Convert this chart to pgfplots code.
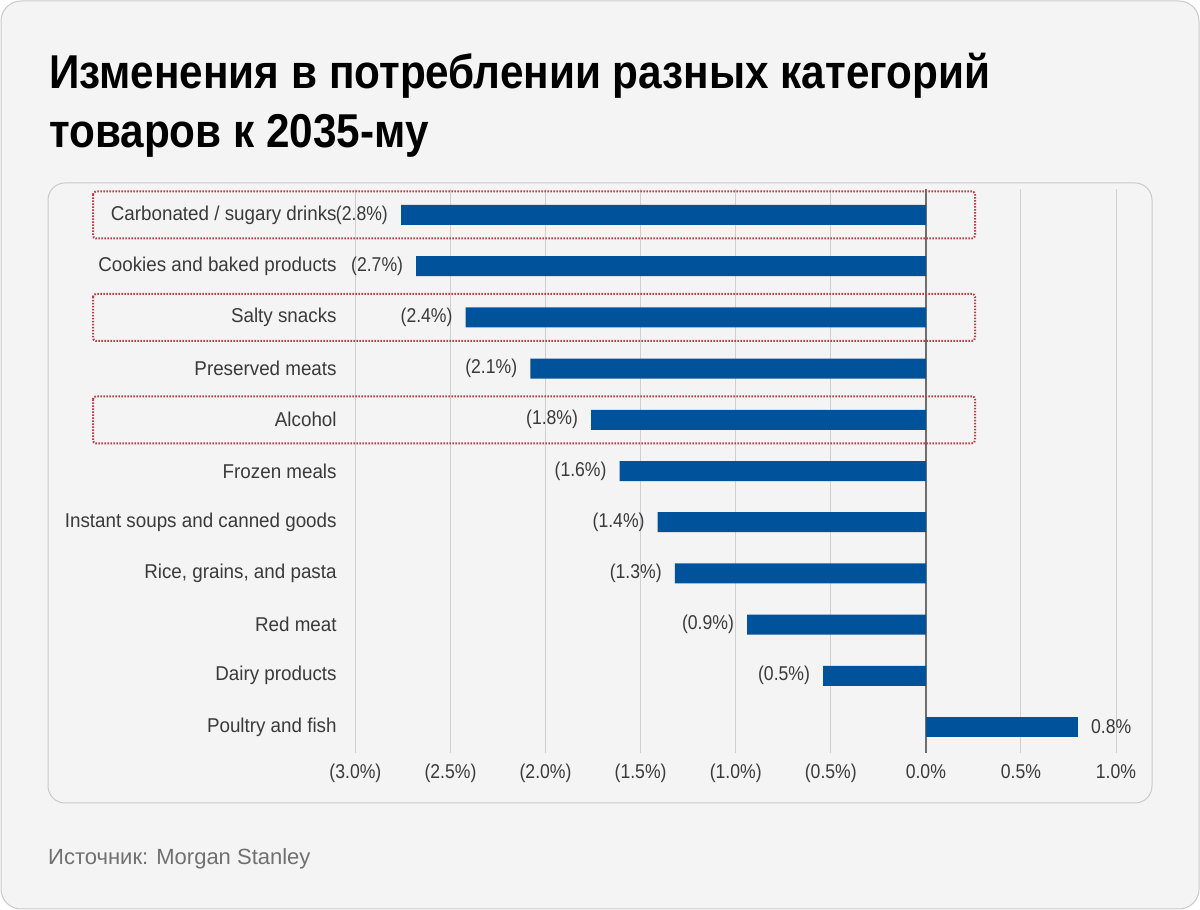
\documentclass[border=0pt]{standalone}
\usepackage{pgfplots}
\pgfplotsset{compat=1.18}
\usepackage{pgfplotstable}
\usepackage{fontspec}
\setmainfont{Liberation Sans}
\newfontfamily\cond[FakeStretch=0.88]{Liberation Sans}
\newfontfamily\catfont[FakeStretch=0.94]{Liberation Sans}
\newfontfamily\titlefont[FakeStretch=0.89]{Liberation Sans}
\definecolor{bg}{HTML}{F4F4F4}
\definecolor{cardline}{HTML}{C9C9C9}
\definecolor{barblue}{HTML}{00539B}
\definecolor{gridc}{HTML}{CFCFCF}
\definecolor{zeroc}{HTML}{6E6E6E}
\definecolor{txt}{HTML}{3A3A3A}
\definecolor{srcc}{HTML}{707070}
\definecolor{redbox}{HTML}{C23B45}

\pgfplotstableread{
y x lab
0 -2.76 2.8
1 -2.68 2.7
2 -2.42 2.4
3 -2.08 2.1
4 -1.76 1.8
5 -1.61 1.6
6 -1.41 1.4
7 -1.32 1.3
8 -0.94 0.9
9 -0.54 0.5
}\negdata
\pgfplotstableread{
y x lab
10 0.80 0.8
}\posdata

\begin{document}
\begin{tikzpicture}[x=1pt,y=1pt]
\fill[white] (0,0) rectangle (1200,910);
\draw[cardline, fill=bg, line width=1pt, rounded corners=20pt] (1,1) rectangle (1199,909);
\draw[cardline, fill=bg, line width=1pt, rounded corners=17pt] (48,107) rectangle (1152,727);

\node[anchor=base west, inner sep=0pt, text=black] at (49,821) {\titlefont\bfseries\fontsize{47.5}{58}\selectfont Изменения в потреблении разных категорий};
\node[anchor=base west, inner sep=0pt, text=black] at (49,762) {\titlefont\bfseries\fontsize{47.5}{58}\selectfont товаров к 2035-му};
\node[anchor=base west, inner sep=0pt, text=srcc] at (48,45) {\fontsize{22}{26}\selectfont Источник: Morgan Stanley};

\begin{axis}[
  at={(355.4pt,157.4pt)}, anchor=south west,
  scale only axis, width=760.6pt, height=563.2pt,
  xmin=-3, xmax=1, ymin=-0.5, ymax=10.5,
  y dir=reverse,
  xbar, bar width=20pt, bar shift=0pt,
  axis line style={draw=none},
  major tick style={draw=none},
  xtick={-3,-2.5,-2,-1.5,-1,-0.5,0,0.5,1},
  xticklabels={(3.0\%),(2.5\%),(2.0\%),(1.5\%),(1.0\%),(0.5\%),0.0\%,0.5\%,1.0\%},
  ytick={0,1,2,3,4,5,6,7,8,9,10},
  yticklabels={Carbonated / sugary drinks,Cookies and baked products,Salty snacks,Preserved meats,Alcohol,Frozen meals,Instant soups and canned goods,{Rice, grains, and pasta},Red meat,Dairy products,Poultry and fish},
  xmajorgrids,
  grid style={gridc, line width=1pt},
  extra x ticks={0},
  extra x tick labels={},
  extra x tick style={grid style={zeroc, line width=2pt}},
  xticklabel style={font=\cond\fontsize{20}{24}\selectfont, text=txt, yshift=-8pt},
  yticklabel style={font=\catfont\fontsize{20}{24}\selectfont, text=txt, xshift=-11pt},
  clip=false,
  /pgf/number format/assume math mode=true,
]
\addplot[fill=barblue, draw=none, point meta=explicit,
  nodes near coords={(\pgfmathprintnumber[fixed,fixed zerofill,precision=1]{\pgfplotspointmeta}\%)},
  nodes near coords style={anchor=east, inner sep=2pt, xshift=-11pt, font=\cond\fontsize{20}{24}\selectfont, text=txt}]
  table[x=x, y=y, meta=lab] {\negdata};
\addplot[fill=barblue, draw=none, point meta=explicit,
  nodes near coords={\pgfmathprintnumber[fixed,fixed zerofill,precision=1]{\pgfplotspointmeta}\%},
  nodes near coords style={anchor=west, inner sep=2pt, xshift=11pt, font=\cond\fontsize{20}{24}\selectfont, text=txt}]
  table[x=x, y=y, meta=lab] {\posdata};
\end{axis}

\foreach \c in {215,317.4,419.8}{
  \draw[redbox, line width=2pt, dash pattern=on 1.5pt off 1.5pt, rounded corners=3pt]
    (93,{910-(\c-23.5)}) rectangle (975,{910-(\c+23.5)});
}
\end{tikzpicture}
\end{document}
